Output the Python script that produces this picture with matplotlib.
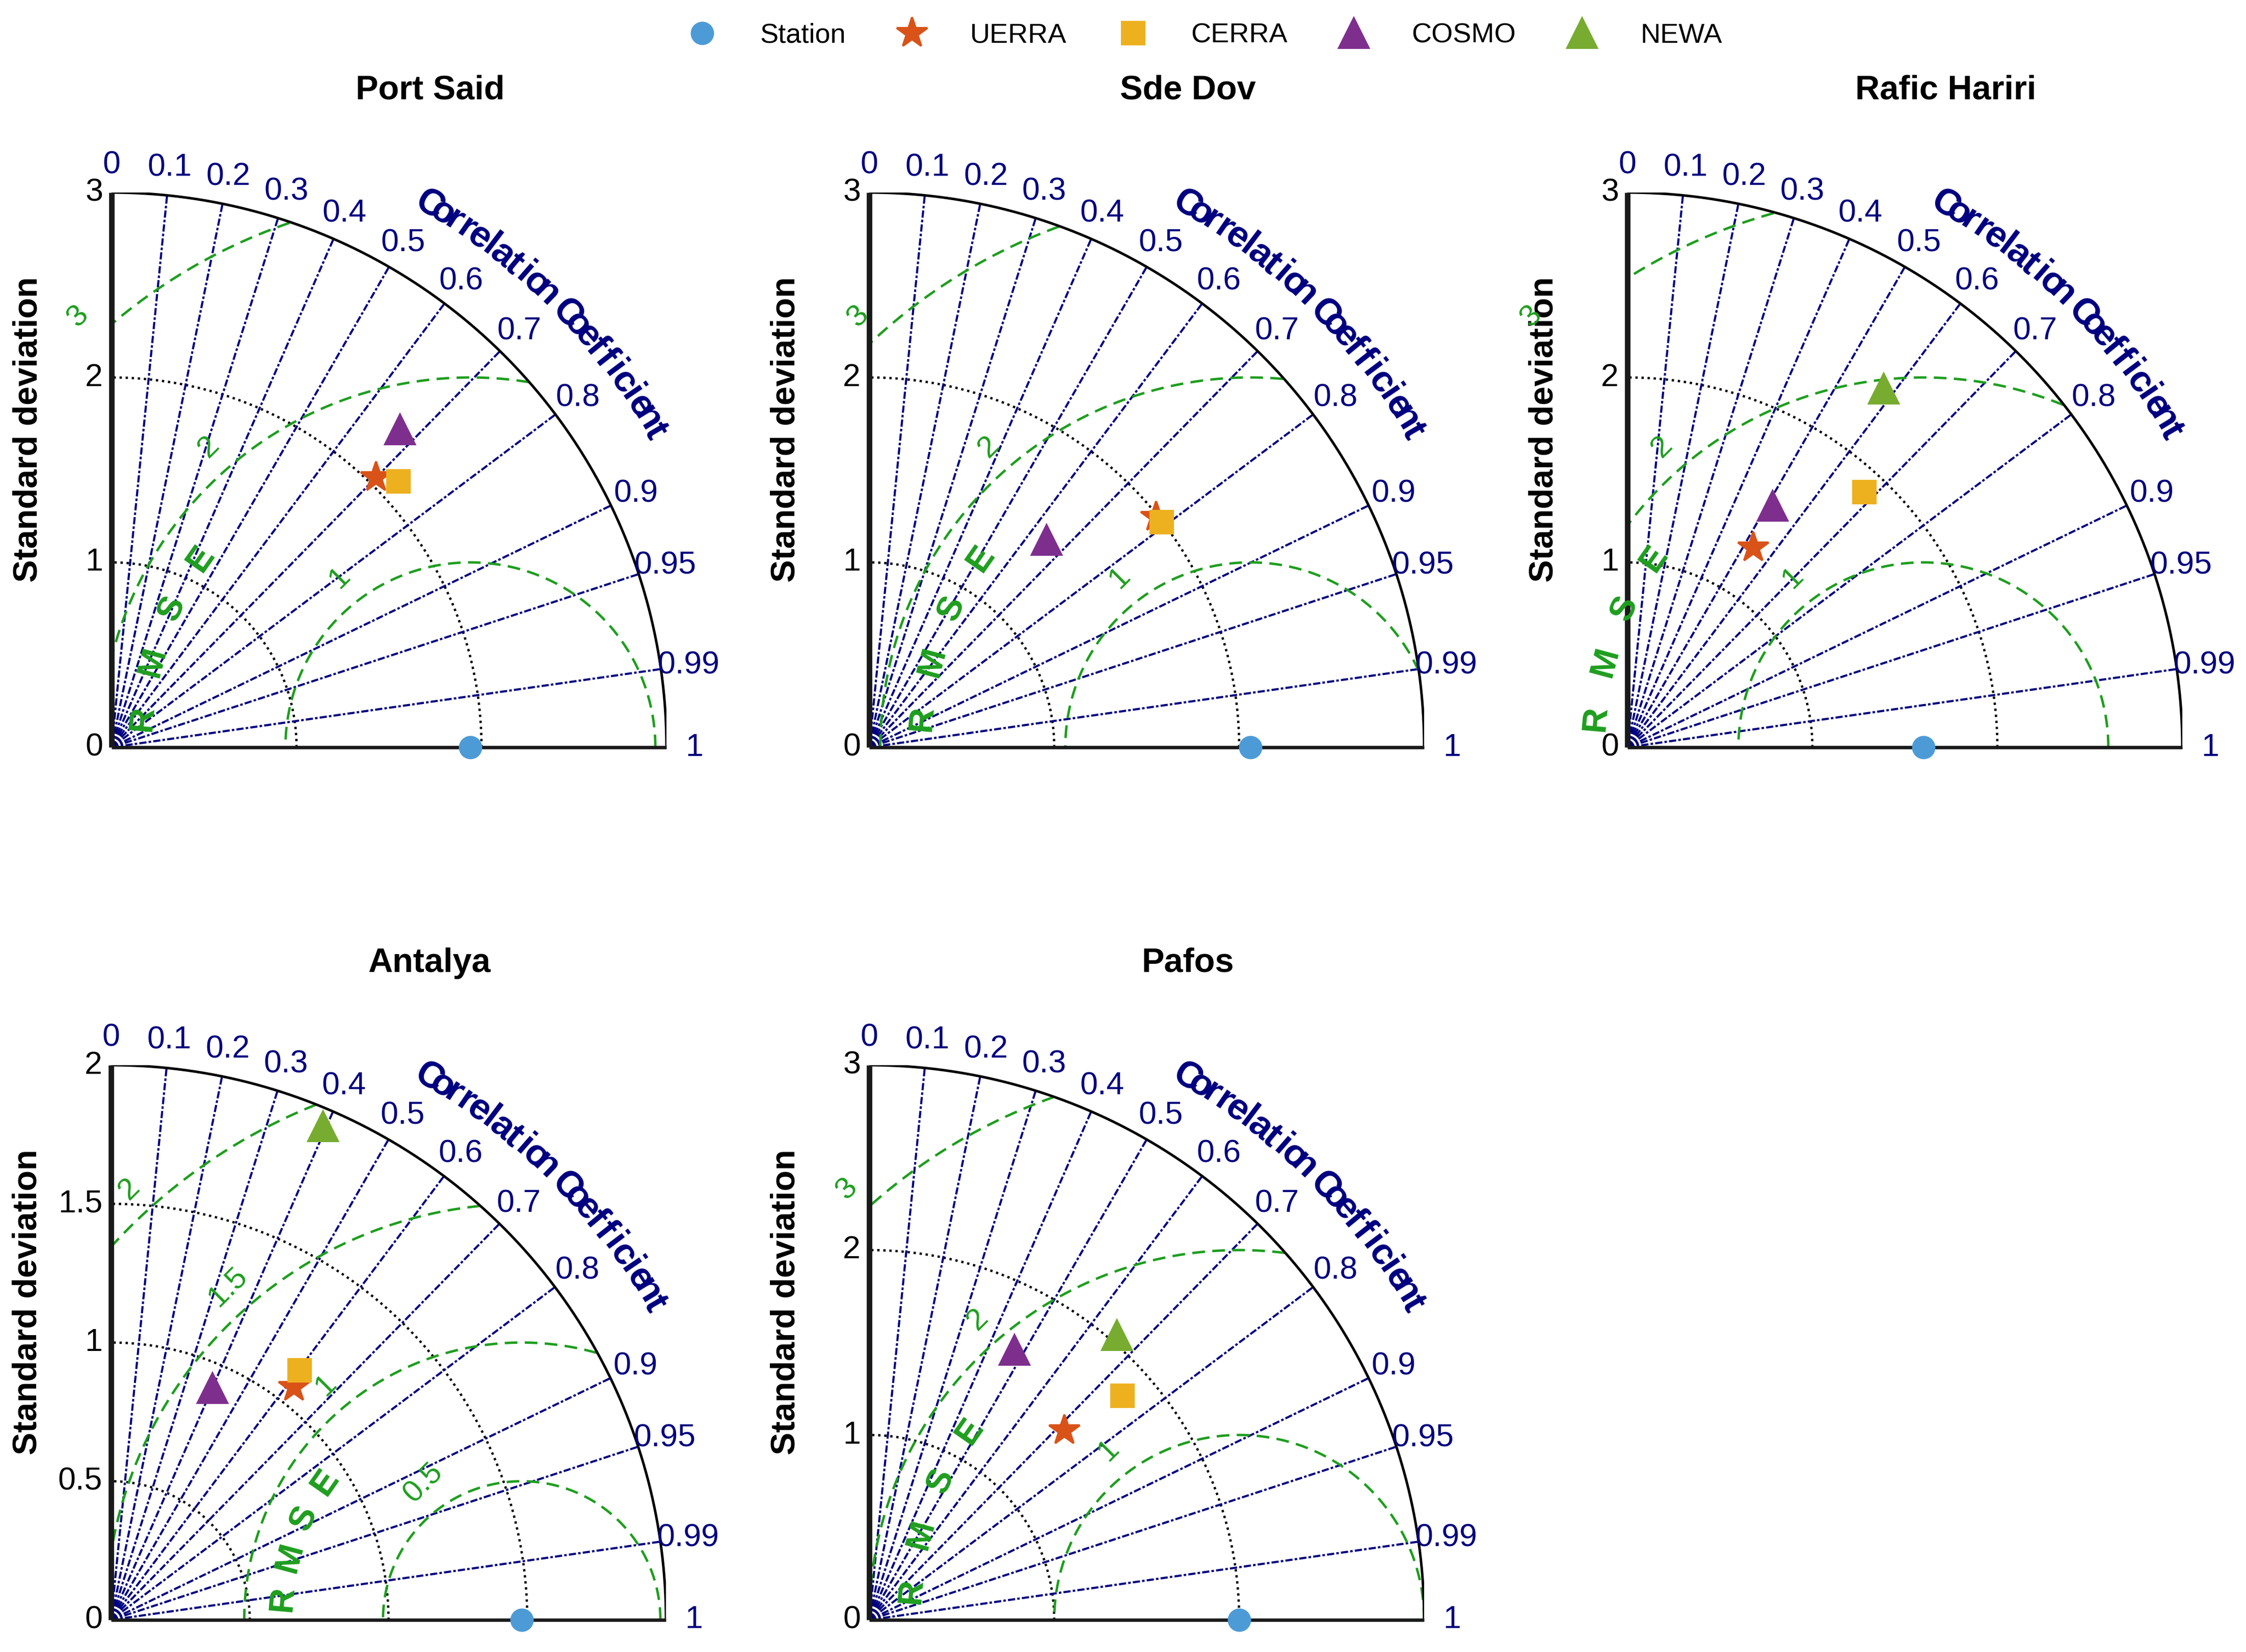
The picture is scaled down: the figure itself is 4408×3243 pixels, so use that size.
import numpy as np
import matplotlib
matplotlib.use('Agg')
import matplotlib.pyplot as plt
from matplotlib.lines import Line2D

plt.rcParams['font.family'] = ['Liberation Sans', 'DejaVu Sans']

# ---- data ----
sites = ['Port Said', 'Sde Dov', 'Rafic Hariri', 'Antalya', 'Pafos']
station_std = [1.94, 2.06, 1.60, 1.48, 2.00]

models = ['UERRA', 'CERRA', 'COSMO', 'NEWA']
uerra_std = [2.044, 1.988, 1.276, 1.068, 1.470]
uerra_corr = [0.700, 0.780, 0.533, 0.618, 0.717]
cerra_std = [2.116, 1.996, 1.882, 1.128, 1.828]
cerra_corr = [0.733, 0.792, 0.680, 0.603, 0.749]
cosmo_std = [2.322, 1.477, 1.523, 0.912, 1.659]
cosmo_corr = [0.672, 0.650, 0.515, 0.400, 0.474]
newa_std = [np.nan, np.nan, 2.383, 1.937, 2.039]
newa_corr = [np.nan, np.nan, 0.581, 0.394, 0.656]

max_std = [3, 3, 3, 2, 3]
std_ticks_3 = [0, 1, 2, 3]
std_ticks_2 = [0, 0.5, 1, 1.5, 2]
rmse_ticks_3 = [1, 2, 3]
rmse_ticks_2 = [0.5, 1, 1.5, 2]
corr_ticks = [0, 0.1, 0.2, 0.3, 0.4, 0.5, 0.6, 0.7, 0.8, 0.9, 0.95, 0.99, 1]

model_std = [uerra_std, cerra_std, cosmo_std, newa_std]
model_corr = [uerra_corr, cerra_corr, cosmo_corr, newa_corr]

# ---- styles ----
navy = '#000080'
green = '#1E9E1E'
station_style = dict(marker='o', color='#4D9BD6', ms=10)
model_styles = [dict(marker='*', color='#D95319', ms=15),
                dict(marker='s', color='#EDB120', ms=10.5),
                dict(marker='^', color='#7E2F8E', ms=14),
                dict(marker='^', color='#77AC30', ms=14)]

W, H = 4408, 3243
R_PX = 1089
origins = [(219, 1467), (1706, 1467), (3194, 1467), (218, 3180), (1706, 3180)]
rmse_letter_r = [1.78, 1.78, 1.78, 0.866, 1.78]

fig = plt.figure(figsize=(W / 300, H / 300), dpi=300)


def fmt(v):
    return ('%g' % v)


def taylor_panel(ax, title, ref, rmax, std_ticks, rmse_ticks, letter_r, pts):
    th = np.linspace(0, np.pi / 2, 500)
    # outer arc and axes
    ax.plot(rmax * np.cos(th), rmax * np.sin(th), color='k', lw=1.2, zorder=3)
    ax.plot([0, 0], [0, rmax], color='#1a1a1a', lw=2.6, zorder=4,
            solid_capstyle='butt', clip_on=False)
    ax.plot([0, rmax], [0, 0], color='#1a1a1a', lw=1.6, zorder=4,
            solid_capstyle='butt', clip_on=False)

    # std arcs
    for s in std_ticks:
        if 0 < s < rmax:
            ax.plot(s * np.cos(th), s * np.sin(th), color='k', lw=1.1,
                    linestyle=(0, (1, 1.6)), zorder=2)

    # correlation rays
    for c in corr_ticks[1:-1]:
        a = np.arccos(c)
        ax.plot([0, rmax * np.cos(a)], [0, rmax * np.sin(a)], color=navy,
                lw=1.0, linestyle=(0, (3.4, 1.0, 1.2, 1.0)), zorder=2)
    for c in corr_ticks:
        a = np.arccos(c)
        ax.text(1.05 * rmax * np.cos(a), 1.05 * rmax * np.sin(a), fmt(c),
                color=navy, fontsize=15, ha='center', va='center')

    # curved axis title
    label = 'Correlation Coefficient'
    angs = np.linspace(59.6, 30.2, len(label))
    for ch, a in zip(label, angs):
        if ch == ' ':
            continue
        ar = np.radians(a)
        ax.text(1.133 * rmax * np.cos(ar), 1.133 * rmax * np.sin(ar), ch,
                color=navy, fontsize=17.5, fontweight='bold', rotation=a - 90,
                rotation_mode='anchor', ha='center', va='center')

    # RMSE contours around the reference point
    tt = np.linspace(0, np.pi, 800)
    for v in rmse_ticks:
        x = ref + v * np.cos(tt)
        y = v * np.sin(tt)
        keep = (x >= 0) & (x ** 2 + y ** 2 <= rmax ** 2)
        x = np.where(keep, x, np.nan)
        y = np.where(keep, y, np.nan)
        ax.plot(x, y, color=green, lw=1.15, linestyle=(0, (5.2, 3.0)), zorder=2)
        ax.text(ref - v * 0.7071, v * 0.7071 + 0.07 * rmax, fmt(v), color=green,
                fontsize=14.5, rotation=45, ha='center', va='center', zorder=5)

    for ch, a in zip('RMSE', [175, 165, 155, 145]):
        ar = np.radians(a)
        ax.text(ref + letter_r * np.cos(ar), letter_r * np.sin(ar), ch,
                color=green, fontsize=16.5, fontweight='bold', rotation=a - 90,
                rotation_mode='anchor', ha='center', va='center', zorder=5)

    # std tick labels
    for s in std_ticks:
        ax.text(-0.0156 * rmax, s, fmt(s), fontsize=15, ha='right', va='center')
    ax.text(-0.15 * rmax, 0.573 * rmax, 'Standard deviation', fontsize=16,
            fontweight='bold', rotation=90, ha='center', va='center')
    ax.text(0.574 * rmax, rmax * 1.184, title, fontsize=16, fontweight='bold',
            ha='center', va='center')

    # points
    ax.plot([ref], [0], ls='none', zorder=6, clip_on=False, **station_style)
    for (sd, cc), st in zip(pts, model_styles):
        if np.isnan(sd):
            continue
        a = np.arccos(cc)
        ax.plot([sd * np.cos(a)], [sd * np.sin(a)], ls='none', zorder=6,
                clip_on=False, **st)


for i, site in enumerate(sites):
    ox, oy = origins[i]
    ax = fig.add_axes([ox / W, 1 - oy / H, R_PX / W, R_PX / H])
    rmax = max_std[i]
    ax.set_xlim(0, rmax)
    ax.set_ylim(0, rmax)
    ax.axis('off')
    if rmax == 2:
        sticks, rticks = std_ticks_2, rmse_ticks_2
    else:
        sticks, rticks = std_ticks_3, rmse_ticks_3
    pts = [(model_std[k][i], model_corr[k][i]) for k in range(len(models))]
    taylor_panel(ax, site, station_std[i], rmax, sticks, rticks,
                 rmse_letter_r[i], pts)

handles = [Line2D([], [], ls='none', **station_style)]
handles += [Line2D([], [], ls='none', **st) for st in model_styles]
fig.legend(handles, ['Station'] + models, ncol=5, loc='center',
           bbox_to_anchor=(2368 / W, 1 - 70 / H), frameon=False, fontsize=13,
           handlelength=0.8, handletextpad=1.7, columnspacing=2.0,
           borderpad=0)

fig.savefig('out.png', dpi=300)
